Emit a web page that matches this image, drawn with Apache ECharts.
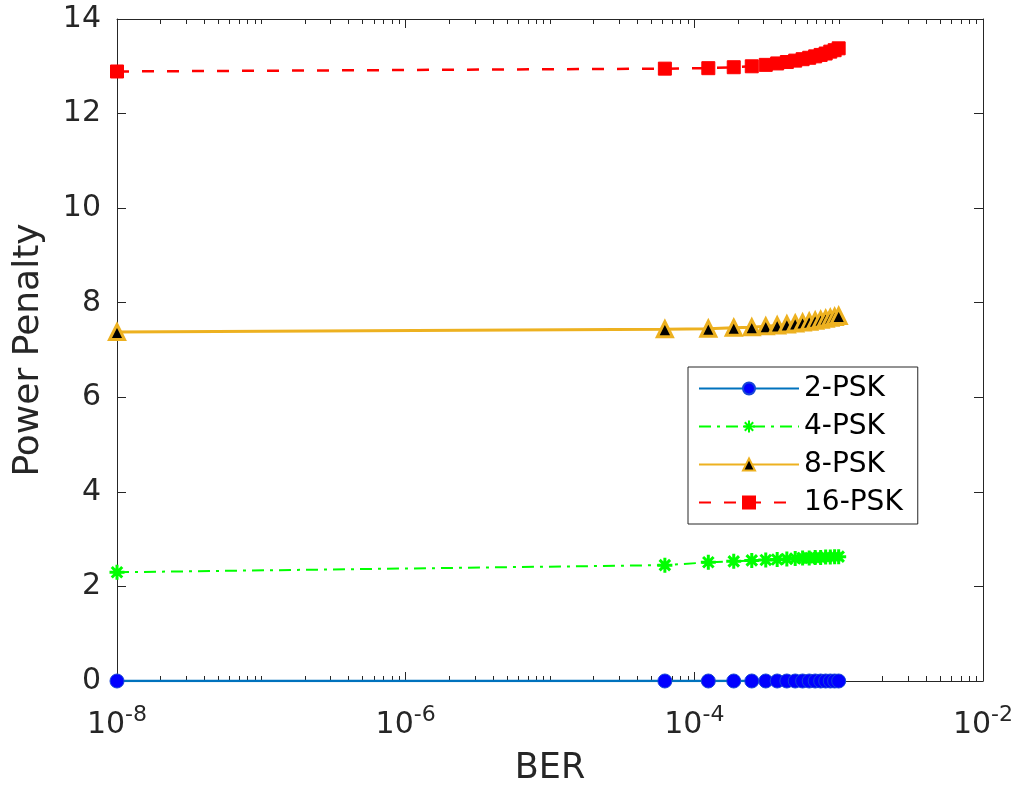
<!DOCTYPE html>
<html>
<head>
<meta charset="utf-8">
<title>Power Penalty vs BER</title>
<script src="https://cdn.jsdelivr.net/npm/echarts@6/dist/echarts.min.js"></script>
<style>
  html, body { margin: 0; padding: 0; background: #ffffff; }
  #chart { width: 1022px; height: 789px; }
</style>
</head>
<body>
<div id="chart"></div>
<script>
// Bit error rate sample points (shared by all curves)
const ber = [1e-8, 6.25e-5, 1.25e-4, 1.875e-4, 2.5e-4, 3.125e-4, 3.75e-4, 4.375e-4,
             5e-4, 5.625e-4, 6.25e-4, 6.875e-4, 7.5e-4, 8.125e-4, 8.75e-4, 9.375e-4, 1e-3];

// Power penalty per modulation order
const psk2  = [0, 0, 0, 0, 0, 0, 0, 0, 0, 0, 0, 0, 0, 0, 0, 0, 0];
const psk4  = [2.30, 2.45, 2.51, 2.53, 2.55, 2.56, 2.57, 2.58, 2.59, 2.60, 2.60, 2.61, 2.61, 2.62, 2.62, 2.63, 2.63];
const psk8  = [7.38, 7.44, 7.45, 7.47, 7.48, 7.50, 7.52, 7.54, 7.56, 7.58, 7.60, 7.62, 7.64, 7.66, 7.68, 7.70, 7.72];
const psk16 = [12.89, 12.95, 12.96, 12.98, 13.00, 13.03, 13.06, 13.09, 13.12, 13.15, 13.18, 13.21, 13.24, 13.27, 13.31, 13.34, 13.38];

const seriesNames = ['2-PSK', '4-PSK', '8-PSK', '16-PSK'];

// Axis ranges and ticks
const yTicks = [0, 2, 4, 6, 8, 10, 12, 14];
const xLabelExponents = [-8, -6, -4, -2];
// Minor log ticks: mantissas within each decade, plus the unlabeled odd decades
const minorDecades = [-8, -7, -6, -5, -4, -3];
const minorMantissas = [2, 3, 4, 5, 6, 7, 8, 9];
const unlabeledDecades = [-7, -5, -3];

const ink = '#262626';
const fontFamily = '"DejaVu Sans", sans-serif';

const minorTickValues = [];
minorDecades.forEach(d => minorMantissas.forEach(m => minorTickValues.push([m * Math.pow(10, d), 0])));
unlabeledDecades.forEach(d => minorTickValues.push([Math.pow(10, d), 0]));

const pairs = ys => ber.map((x, i) => [x, ys[i]]);

const chart = echarts.init(document.getElementById('chart'), null, { renderer: 'canvas' });

const xMin = Math.pow(10, xLabelExponents[0]);
const xMax = Math.pow(10, xLabelExponents[xLabelExponents.length - 1]);
const yMin = yTicks[0];
const yMax = yTicks[yTicks.length - 1];

const baseX = {
  type: 'log',
  logBase: 100,
  min: xMin,
  max: xMax,
  axisLine: { show: true, onZero: false, lineStyle: { color: ink, width: 1 } },
  axisTick: { show: true, inside: true, length: 9, lineStyle: { color: ink, width: 1 } },
  splitLine: { show: false },
  minorTick: { show: false }
};

const baseY = {
  type: 'value',
  min: yMin,
  max: yMax,
  interval: 2,
  axisLine: { show: true, onZero: false, lineStyle: { color: ink, width: 1 } },
  axisTick: { show: true, inside: true, length: 9, lineStyle: { color: ink, width: 1 } },
  splitLine: { show: false }
};

const option = {
  backgroundColor: '#ffffff',
  animation: false,
  textStyle: { fontFamily: fontFamily, color: ink },
  grid: { left: 117, right: 39, top: 19, bottom: 108, containLabel: false, outerBoundsMode: 'none' },
  xAxis: [
    Object.assign({}, baseX, {
      position: 'bottom',
      name: 'BER',
      nameLocation: 'middle',
      nameGap: 70,
      nameTextStyle: { fontSize: 35, color: ink, fontFamily: fontFamily },
      axisLabel: {
        show: true,
        margin: 23,
        color: ink,
        fontFamily: fontFamily,
        formatter: v => '{b|10}{s|' + Math.round(Math.log10(v)) + '}',
        rich: {
          b: { fontSize: 30, color: ink, fontFamily: fontFamily, verticalAlign: 'bottom' },
          s: { fontSize: 22, color: ink, fontFamily: fontFamily, verticalAlign: 'bottom', padding: [0, 0, 14, 0] }
        }
      }
    }),
    Object.assign({}, baseX, {
      position: 'top',
      axisLabel: { show: false }
    })
  ],
  yAxis: [
    Object.assign({}, baseY, {
      position: 'left',
      name: 'Power Penalty',
      nameLocation: 'middle',
      nameGap: 70,
      nameRotate: 90,
      nameTextStyle: { fontSize: 36, color: ink, fontFamily: fontFamily },
      axisLabel: { show: true, margin: 16, fontSize: 30, color: ink, fontFamily: fontFamily }
    }),
    Object.assign({}, baseY, {
      position: 'right',
      axisLabel: { show: false }
    })
  ],
  legend: {
    data: seriesNames,
    orient: 'vertical',
    left: 688,
    top: 367,
    padding: [6, 15, 6, 10],
    itemWidth: 100,
    itemHeight: 15,
    itemGap: 7,
    borderColor: ink,
    borderWidth: 1,
    backgroundColor: '#ffffff',
    textStyle: { fontSize: 28, lineHeight: 31, color: '#000000', fontFamily: fontFamily }
  },
  series: [
    {
      name: '2-PSK',
      type: 'line',
      data: pairs(psk2),
      symbol: 'circle',
      symbolSize: 14,
      showAllSymbol: true,
      lineStyle: { color: '#0072BD', width: 2.5 },
      itemStyle: { color: '#0000FF', borderColor: '#1646d8', borderWidth: 1 },
      z: 3
    },
    {
      name: '4-PSK',
      type: 'line',
      data: pairs(psk4),
      symbol: 'path://M5,0L5,10M0,5L10,5M1.5,1.5L8.5,8.5M1.5,8.5L8.5,1.5',
      symbolSize: 15,
      showAllSymbol: true,
      lineStyle: { color: '#00FF00', width: 2, type: [12, 6, 3, 6] },
      itemStyle: { color: 'rgba(0,0,0,0)', borderColor: '#00FF00', borderWidth: 3 },
      z: 3
    },
    {
      name: '8-PSK',
      type: 'line',
      data: pairs(psk8),
      symbol: 'triangle',
      symbolSize: 15,
      showAllSymbol: true,
      lineStyle: { color: '#EDB120', width: 3 },
      itemStyle: { color: '#000000', borderColor: '#EDB120', borderWidth: 3 },
      z: 3
    },
    {
      name: '16-PSK',
      type: 'line',
      data: pairs(psk16),
      symbol: 'rect',
      symbolSize: 13,
      showAllSymbol: true,
      lineStyle: { color: '#FF0000', width: 2.5, type: [12, 13] },
      itemStyle: { color: '#FF0000', borderColor: '#FF0000', borderWidth: 1 },
      z: 3
    },
    {
      // minor log ticks along the bottom and top edges of the plot box
      name: 'minor-ticks',
      type: 'custom',
      silent: true,
      clip: false,
      xAxisIndex: 0,
      yAxisIndex: 0,
      data: minorTickValues,
      encode: { x: 0, y: 1 },
      z: 2,
      renderItem: (params, api) => {
        const v = api.value(0);
        const bottom = api.coord([v, yMin]);
        const top = api.coord([v, yMax]);
        const x = Math.round(bottom[0]) + 0.5;
        const style = { stroke: ink, lineWidth: 1 };
        return {
          type: 'group',
          children: [
            { type: 'line', shape: { x1: x, y1: bottom[1], x2: x, y2: bottom[1] - 5 }, style: style },
            { type: 'line', shape: { x1: x, y1: top[1], x2: x, y2: top[1] + 5 }, style: style }
          ]
        };
      }
    }
  ]
};

chart.setOption(option);
</script>
</body>
</html>
